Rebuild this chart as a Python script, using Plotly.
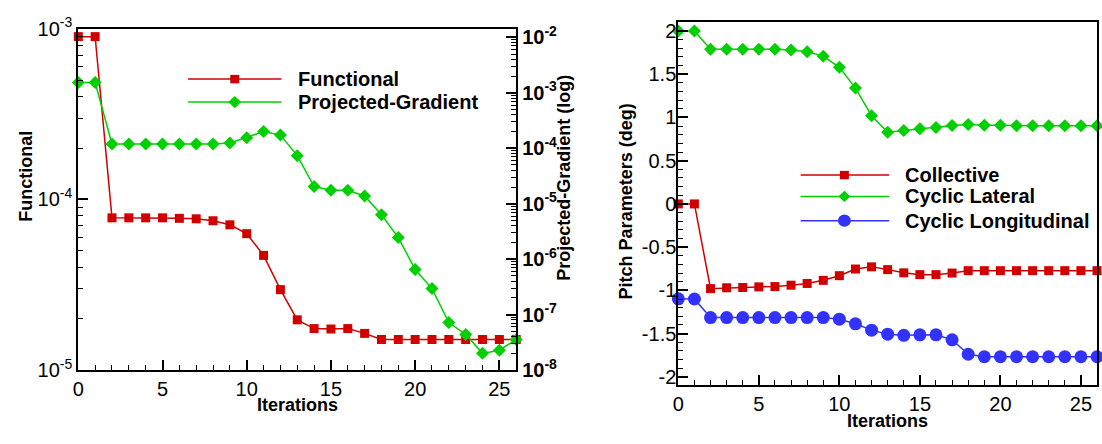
import plotly.graph_objects as go

# ---------------- data ----------------
iterations = list(range(27))

functional = [9.0e-4, 9.0e-4, 7.8e-5, 7.8e-5, 7.8e-5, 7.8e-5, 7.75e-5, 7.7e-5, 7.5e-5,
              7.1e-5, 6.3e-5, 4.7e-5, 2.96e-5, 1.97e-5, 1.75e-5, 1.74e-5, 1.75e-5, 1.64e-5,
              1.51e-5, 1.51e-5, 1.51e-5, 1.51e-5, 1.51e-5, 1.51e-5, 1.51e-5, 1.51e-5, 1.51e-5]

projected_gradient = [1.53e-3, 1.53e-3, 1.19e-4, 1.19e-4, 1.19e-4, 1.19e-4, 1.19e-4, 1.19e-4, 1.19e-4,
                      1.24e-4, 1.55e-4, 2.0e-4, 1.73e-4, 7.36e-5, 2.04e-5, 1.75e-5, 1.75e-5, 1.38e-5,
                      6.3e-6, 2.45e-6, 6.5e-7, 2.95e-7, 7.2e-8, 4.4e-8, 2.0e-8, 2.28e-8, 3.55e-8]

collective = [0.0, 0.0, -0.98, -0.97, -0.967, -0.96, -0.956, -0.94, -0.92, -0.884, -0.83,
              -0.753, -0.728, -0.76, -0.797, -0.818, -0.818, -0.80,
              -0.772, -0.772, -0.772, -0.772, -0.772, -0.772, -0.772, -0.772, -0.772]

cyclic_lateral = [2.0, 2.0, 1.79, 1.79, 1.79, 1.79, 1.79, 1.78, 1.76, 1.71, 1.58, 1.34, 1.02,
                  0.83, 0.85, 0.87, 0.885, 0.906, 0.92, 0.91, 0.91, 0.905, 0.905, 0.905,
                  0.905, 0.905, 0.905]

cyclic_longitudinal = [-1.098, -1.1, -1.315, -1.315, -1.315, -1.315, -1.315, -1.315, -1.315,
                       -1.315, -1.333, -1.387, -1.46, -1.507, -1.52, -1.514, -1.514, -1.572,
                       -1.739, -1.768, -1.768, -1.768, -1.768, -1.768, -1.768, -1.768, -1.768]

x_ticks = [0, 5, 10, 15, 20, 25]
func_tickvals = [1e-5, 1e-4, 1e-3]
func_ticktext = ["10<sup>-5</sup>", "10<sup>-4</sup>", "10<sup>-3</sup>"]
grad_tickvals = [1e-8, 1e-7, 1e-6, 1e-5, 1e-4, 1e-3, 1e-2]
grad_ticktext = ["<b>10<sup>-%d</sup></b>" % k for k in (8, 7, 6, 5, 4, 3, 2)]
pitch_tickvals = [-2, -1.5, -1, -0.5, 0, 0.5, 1, 1.5, 2]
pitch_ticktext = ["-2", "-1.5", "-1", "-0.5", "0", "0.5", "1", "1.5", "2"]

RED = "#D00000"
GREEN = "#00D000"
BLUE = "#3232FF"
FONT = "Liberation Sans, Arial, Helvetica, sans-serif"

W, H = 1102, 444


def px(x):
    return x / W


def py(y):
    return 1 - y / H


fig = go.Figure()

fig.add_trace(go.Scatter(x=iterations, y=functional, name="Functional", xaxis="x", yaxis="y",
                         mode="lines+markers", cliponaxis=False,
                         line=dict(color=RED, width=1.5),
                         marker=dict(symbol="square", size=9, color=RED)))
fig.add_trace(go.Scatter(x=iterations, y=projected_gradient, name="Projected-Gradient",
                         xaxis="x", yaxis="y2", mode="lines+markers", cliponaxis=False,
                         line=dict(color=GREEN, width=1.5),
                         marker=dict(symbol="diamond", size=10, color=GREEN)))

fig.add_trace(go.Scatter(x=iterations, y=collective, name="Collective", xaxis="x2", yaxis="y3",
                         mode="lines+markers", cliponaxis=False,
                         line=dict(color=RED, width=1.5),
                         marker=dict(symbol="square", size=9, color=RED)))
fig.add_trace(go.Scatter(x=iterations, y=cyclic_lateral, name="Cyclic Lateral", xaxis="x2",
                         yaxis="y3", mode="lines+markers", cliponaxis=False,
                         line=dict(color=GREEN, width=1.5),
                         marker=dict(symbol="diamond", size=10, color=GREEN)))
fig.add_trace(go.Scatter(x=iterations, y=cyclic_longitudinal, name="Cyclic Longitudinal",
                         xaxis="x2", yaxis="y3", mode="lines+markers", cliponaxis=False,
                         line=dict(color=BLUE, width=1.5),
                         marker=dict(symbol="circle", size=13, color=BLUE)))

tickfont = dict(family=FONT, size=20, color="black")
common = dict(showline=True, linecolor="black", linewidth=2, ticks="inside", ticklen=10,
              tickwidth=1.5, tickcolor="black", showgrid=False, zeroline=False,
              tickfont=tickfont)

left_dom_x = [px(72.7), px(513)]
left_dom_y = [py(377.3), py(15.7)]
right_dom_x = [px(676), px(1097)]
right_dom_y = [py(392.7), py(8)]

fig.update_layout(
    width=W, height=H,
    margin=dict(l=0, r=0, t=0, b=0),
    paper_bgcolor="white", plot_bgcolor="white",
    showlegend=False,
    font=dict(family=FONT, color="black"),
    xaxis=dict(domain=left_dom_x, anchor="y", range=[0, 26], tickvals=x_ticks, mirror=True,
               minor=dict(ticks="inside", dtick=1, ticklen=5, tickcolor="black", tickwidth=1),
               **common),
    yaxis=dict(domain=left_dom_y, anchor="x", type="log", range=[-5, -3],
               tickvals=func_tickvals, ticktext=func_ticktext,
               minor=dict(ticks="inside", dtick="D1", ticklen=5, tickcolor="black", tickwidth=1),
               **common),
    yaxis2=dict(overlaying="y", anchor="x", side="right", type="log", range=[-8, -1.846],
                tickvals=grad_tickvals, ticktext=grad_ticktext,
                minor=dict(ticks="inside", dtick="D1", ticklen=5, tickcolor="black", tickwidth=1),
                **common),
    xaxis2=dict(domain=right_dom_x, anchor="y3", range=[0, 26], tickvals=x_ticks, mirror=True,
                minor=dict(ticks="inside", dtick=1, ticklen=5, tickcolor="black", tickwidth=1),
                **common),
    yaxis3=dict(domain=right_dom_y, anchor="x2", range=[-2.09, 2.11], mirror=True,
                tickvals=pitch_tickvals, ticktext=pitch_ticktext, ticklabelstandoff=-4,
                minor=dict(ticks="inside", dtick=0.1, ticklen=5, tickcolor="black", tickwidth=1),
                **common),
)

title_font = dict(family=FONT, size=18, color="black", weight="bold")
annotations = [
    dict(text="Iterations", x=px(292.9), y=py(414), textangle=0),
    dict(text="Iterations", x=px(886.5), y=py(431), textangle=0),
    dict(text="Functional", x=px(20), y=py(171.5), textangle=-90),
    dict(text="Projected-Gradient (log)", x=px(561), y=py(173.5), textangle=-90),
    dict(text="Pitch Parameters (deg)", x=px(623), y=py(199), textangle=-90),
]
for a in annotations:
    fig.add_annotation(xref="paper", yref="paper", showarrow=False, xanchor="center",
                       yanchor="middle", font=title_font, **a)

# ---------------- legends (drawn as decorations) ----------------
legend_font = dict(family=FONT, size=20, color="black", weight="bold")


def legend_entry(x0, x1, xm, y, color, symbol, text, xt, size):
    fig.add_shape(type="line", xref="paper", yref="paper", x0=px(x0), x1=px(x1),
                  y0=py(y), y1=py(y), line=dict(color=color, width=1.5))
    h = size / 2
    if symbol == "square":
        fig.add_shape(type="rect", xref="paper", yref="paper", x0=px(xm - h), x1=px(xm + h),
                      y0=py(y + h), y1=py(y - h), fillcolor=color, line=dict(width=0))
    elif symbol == "diamond":
        path = "M %f %f L %f %f L %f %f L %f %f Z" % (
            px(xm - h), py(y), px(xm), py(y - h), px(xm + h), py(y), px(xm), py(y + h))
        fig.add_shape(type="path", xref="paper", yref="paper", path=path, fillcolor=color,
                      line=dict(width=0))
    else:
        fig.add_shape(type="circle", xref="paper", yref="paper", x0=px(xm - h), x1=px(xm + h),
                      y0=py(y + h), y1=py(y - h), fillcolor=color, line=dict(width=0))
    fig.add_annotation(xref="paper", yref="paper", x=px(xt), y=py(y), text=text,
                       showarrow=False, xanchor="left", yanchor="middle", font=legend_font)


legend_entry(183, 277, 230, 69, RED, "square", "Functional", 292, 9)
legend_entry(183, 277, 230, 93.3, GREEN, "diamond", "Projected-Gradient", 292, 13)
legend_entry(799, 888, 843, 170.7, RED, "square", "Collective", 902, 9)
legend_entry(799, 888, 843, 193.3, GREEN, "diamond", "Cyclic Lateral", 902, 12)
legend_entry(799, 888, 843, 219, BLUE, "circle", "Cyclic Longitudinal", 902, 13)

fig.write_html("out.html")
